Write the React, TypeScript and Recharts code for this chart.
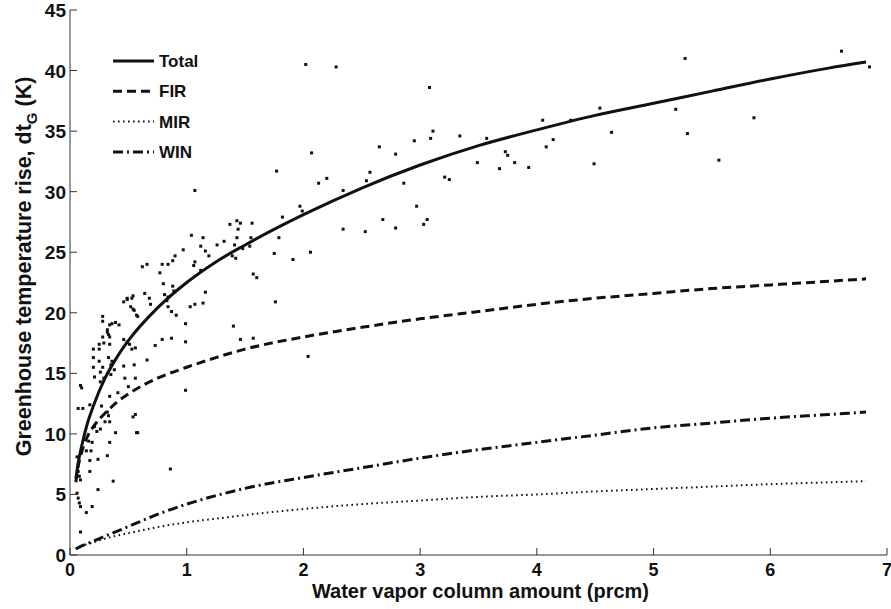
import { ComposedChart, Line, Scatter, XAxis, YAxis, Legend } from 'recharts'

// model curves
const curveX = [0.05, 0.07, 0.1, 0.15, 0.2, 0.3, 0.4, 0.5, 0.75, 1, 1.25, 1.5, 2, 2.5, 3, 3.5, 4, 4.5, 5, 5.5, 6, 6.5, 6.82]
const totalY = [6.3, 7.6, 9.0, 10.9, 12.3, 14.6, 16.3, 17.7, 20.4, 22.5, 24.2, 25.6, 28.1, 30.3, 32.2, 33.8, 35.1, 36.3, 37.3, 38.3, 39.3, 40.2, 40.7]
const firY = [6.0, 7.3, 8.5, 9.8, 10.6, 11.7, 12.6, 13.3, 14.6, 15.5, 16.3, 17.0, 18.0, 18.8, 19.5, 20.1, 20.7, 21.2, 21.6, 22.0, 22.3, 22.6, 22.8]
const mirY = [0.5, 0.6, 0.75, 0.9, 1.05, 1.35, 1.6, 1.8, 2.3, 2.7, 3.0, 3.3, 3.8, 4.2, 4.5, 4.8, 5.0, 5.25, 5.45, 5.65, 5.85, 6.0, 6.1]
const winY = [0.5, 0.6, 0.75, 0.95, 1.15, 1.55, 1.95, 2.35, 3.35, 4.2, 4.9, 5.5, 6.4, 7.2, 8.0, 8.7, 9.3, 9.9, 10.5, 10.9, 11.3, 11.6, 11.8]

// observations
const obsX = [
  0.07, 0.11, 0.09, 0.1, 0.17, 0.27,
  0.06, 0.07, 0.08, 0.09, 0.06, 0.07, 0.08, 0.09, 0.14, 0.09, 0.19,
  0.16, 0.19, 0.14, 0.18, 0.17, 0.24, 0.24, 0.21, 0.23, 0.26, 0.3, 0.32, 0.34, 0.32, 0.33, 0.34, 0.39, 0.37, 0.54, 0.58, 0.86,
  0.2, 0.2, 0.2, 0.21, 0.25, 0.25, 0.25, 0.26, 0.26,
  0.28, 0.28, 0.28, 0.29, 0.28, 0.29,
  0.32, 0.32, 0.33, 0.34, 0.34, 0.34, 0.33, 0.35, 0.35,
  0.36, 0.36, 0.38, 0.39, 0.42, 0.46, 0.46, 0.47, 0.46,
  0.49, 0.49, 0.53, 0.54, 0.52, 0.54, 0.55, 0.57, 0.58,
  0.49, 0.51, 0.53, 0.55, 0.56, 0.56, 0.57,
  0.17, 0.34, 0.41, 0.5, 0.56,
  0.62, 0.66, 0.64, 0.68, 0.69, 0.66, 0.73, 0.77, 0.79, 0.8, 0.81, 0.83, 0.84, 0.84, 0.84, 0.88, 0.88, 0.89, 0.87, 0.91, 0.99,
  0.9, 0.97, 0.79, 0.87, 0.99, 0.99, 1.03, 1.07, 1.14, 1.16, 1.06, 1.07, 1.12, 1.04, 1.07,
  1.12, 1.14, 1.16, 1.19, 1.26, 1.32, 1.37, 1.43, 1.46, 1.41, 1.43, 1.44, 1.48, 1.39, 1.42, 1.55, 1.54, 1.56, 1.57, 1.6,
  1.4, 1.46, 1.57, 1.75, 1.79, 1.82, 1.76, 1.91, 1.97, 1.99, 2.06, 2.04, 1.77, 2.07, 2.13, 2.2, 2.02, 2.28,
  2.34, 2.34, 2.53, 2.54, 2.57, 2.65, 2.68, 2.79, 2.79, 2.86, 2.95, 2.97, 3.03, 3.06, 3.09, 3.11, 3.08, 3.21, 3.25,
  3.34, 3.49, 3.57, 3.68, 3.73, 3.75, 3.81, 3.93, 4.05, 4.08, 4.14, 4.29, 4.49, 4.54, 4.64,
  5.19, 5.27, 5.29, 5.56, 5.86, 6.61, 6.85
]
const obsY = [
  12.1, 12.1, 14.0, 13.8, 12.4, 12.3,
  8.1, 6.9, 6.5, 6.2, 5.1, 4.7, 4.3, 4.0, 3.5, 1.9, 4.0,
  9.4, 9.3, 8.6, 8.6, 6.9, 7.9, 5.4, 10.6, 10.2, 10.4, 11.0, 8.2, 9.3, 11.8, 11.5, 11.0, 10.1, 6.1, 11.4, 10.1, 7.1,
  17.0, 16.3, 15.5, 14.7, 17.0, 17.4, 16.0, 15.1, 14.3,
  19.7, 19.3, 18.0, 17.5, 15.5, 14.6,
  18.6, 18.4, 18.2, 18.0, 19.0, 17.4, 16.3, 15.7, 14.9,
  19.1, 16.0, 15.3, 19.2, 19.0, 17.8, 15.6, 14.6, 20.9,
  21.2, 21.1, 21.2, 21.4, 20.5, 20.3, 20.2, 19.8, 19.7,
  17.6, 17.4, 17.0, 15.7, 14.6, 11.6, 10.1,
  7.8, 13.1, 13.4, 13.9, 17.1,
  23.8, 24.0, 21.6, 21.2, 20.7, 16.1, 17.3, 23.3, 24.0, 22.4, 21.5, 21.0, 21.3, 20.5, 24.0, 24.3, 22.2, 21.8, 20.1, 19.8, 19.1,
  24.7, 25.2, 17.8, 17.9, 17.6, 13.6, 20.5, 20.7, 20.8, 21.7, 23.9, 24.2, 23.5, 26.4, 30.1,
  25.5, 26.2, 25.1, 24.7, 25.6, 25.9, 27.3, 27.6, 27.4, 25.6, 26.2, 26.9, 25.3, 24.7, 24.5, 26.2, 25.5, 27.4, 23.2, 22.9,
  18.9, 17.8, 17.9, 24.9, 26.2, 27.9, 20.9, 24.4, 28.8, 28.4, 25.0, 16.4, 31.7, 33.2, 30.7, 31.1, 40.5, 40.3,
  30.1, 26.9, 26.7, 30.9, 31.6, 33.7, 27.7, 33.1, 27.0, 30.7, 34.2, 28.8, 27.3, 27.7, 34.4, 35.0, 38.6, 31.2, 31.0,
  34.6, 32.4, 34.4, 31.9, 33.3, 33.0, 32.4, 32.0, 35.9, 33.7, 34.3, 35.9, 32.3, 36.9, 34.9,
  36.8, 41.0, 34.8, 32.6, 36.1, 41.6, 40.3
]

const xTicks = [0, 1, 2, 3, 4, 5, 6, 7]
const yTicks = [0, 5, 10, 15, 20, 25, 30, 35, 40, 45]

const seriesNames = ['Total', 'FIR', 'MIR', 'WIN']
const seriesKeys = ['total', 'fir', 'mir', 'win']
const seriesDash = ['', '9 5', '1.6 3.4', '10 4 2 4']
const seriesWidth = [3, 3, 2, 3]

const FONT = 'Arial, "Liberation Sans", Helvetica, sans-serif'
const AXIS = '#333'

const curveData = curveX.map((x, i) => ({
  x,
  total: totalY[i],
  fir: firY[i],
  mir: mirY[i],
  win: winY[i]
}))
const obsData = obsX.map((x, i) => ({ x, y: obsY[i] }))

const BottomTick = ({ x, y, payload }: any) => (
  <g>
    <line x1={x} y1={y} x2={x} y2={y - 7} stroke={AXIS} />
    <text x={x} y={y + 21} textAnchor="middle" fontSize={18} fontWeight="bold" fontFamily={FONT} fill="#111">
      {payload.value}
    </text>
  </g>
)

const LeftTick = ({ x, y, payload }: any) => (
  <g>
    <line x1={x} y1={y} x2={x + 7} y2={y} stroke={AXIS} />
    <text x={x - 4} y={y + 7} textAnchor="end" fontSize={19} fontWeight="bold" fontFamily={FONT} fill="#111">
      {payload.value}
    </text>
  </g>
)

const TopTick = ({ x, y }: any) => <line x1={x} y1={y} x2={x} y2={y + 7} stroke={AXIS} />
const RightTick = ({ x, y }: any) => <line x1={x} y1={y} x2={x - 7} y2={y} stroke={AXIS} />

const XTitle = ({ viewBox }: any) => (
  <text
    x={viewBox.x + viewBox.width / 2 + 2}
    y={598}
    textAnchor="middle"
    fontSize={20}
    fontWeight="bold"
    fontFamily={FONT}
    fill="#111"
  >
    Water vapor column amount (prcm)
  </text>
)

const YTitle = ({ viewBox }: any) => {
  const cx = 31
  const cy = viewBox.y + viewBox.height / 2 - 16
  return (
    <text
      x={cx}
      y={cy}
      transform={`rotate(-90 ${cx} ${cy})`}
      textAnchor="middle"
      fontSize={21.5}
      fontWeight="bold"
      fontFamily={FONT}
      fill="#111"
    >
      Greenhouse temperature rise, dt
      <tspan dy={6} fontSize={15}>G</tspan>
      <tspan dy={-6}> (K)</tspan>
    </text>
  )
}

const LegendBox = () => (
  <svg width={120} height={120}>
    {seriesNames.map((name, i) => {
      const cy = 16 + 30.3 * i
      return (
        <g key={name}>
          <line
            x1={3}
            x2={44}
            y1={cy}
            y2={cy}
            stroke="#111"
            strokeWidth={seriesWidth[i]}
            strokeDasharray={seriesDash[i] || undefined}
          />
          <text x={49} y={cy + 6} fontSize={17} fontWeight="bold" fontFamily={FONT} fill="#111">
            {name}
          </text>
        </g>
      )
    })}
  </svg>
)

const Dot = ({ cx, cy }: any) => <rect x={cx - 1.5} y={cy - 1.5} width={3} height={3} fill="#111" />

export default function App() {
  return (
    <div style={{ position: 'absolute', left: 0, top: 0, width: 891, height: 609, background: '#fff' }}>
      <ComposedChart
        width={891}
        height={609}
        data={curveData}
        margin={{ top: 10, right: 4, bottom: 0, left: 0 }}
      >
        <XAxis
          dataKey="x"
          type="number"
          domain={[0, 7]}
          ticks={xTicks}
          height={54}
          stroke={AXIS}
          tickLine={false}
          tickSize={0}
          tickMargin={0}
          tick={<BottomTick />}
          label={<XTitle />}
          allowDataOverflow
        />
        <XAxis
          xAxisId="top"
          orientation="top"
          dataKey="x"
          type="number"
          domain={[0, 7]}
          ticks={xTicks}
          height={0}
          stroke={AXIS}
          tickLine={false}
          tickSize={0}
          tickMargin={0}
          tick={<TopTick />}
          allowDataOverflow
        />
        <YAxis
          type="number"
          domain={[0, 45]}
          ticks={yTicks}
          width={70}
          stroke={AXIS}
          tickLine={false}
          tickSize={0}
          tickMargin={0}
          tick={<LeftTick />}
          label={<YTitle />}
          allowDataOverflow
        />
        <YAxis
          yAxisId="right"
          orientation="right"
          type="number"
          domain={[0, 45]}
          ticks={yTicks}
          width={0}
          stroke={AXIS}
          tickLine={false}
          tickSize={0}
          tickMargin={0}
          tick={<RightTick />}
          allowDataOverflow
        />
        <Legend
          layout="horizontal"
          verticalAlign="middle"
          align="center"
          content={<LegendBox />}
          wrapperStyle={{ left: 110, top: 45, width: 120, height: 120 }}
        />
        <Scatter data={obsData} dataKey="y" shape={<Dot />} isAnimationActive={false} legendType="none" />
        {seriesKeys.map((key, i) => (
          <Line
            key={key}
            type="monotone"
            dataKey={key}
            name={seriesNames[i]}
            stroke="#111"
            strokeWidth={seriesWidth[i]}
            strokeDasharray={seriesDash[i] || undefined}
            dot={false}
            activeDot={false}
            isAnimationActive={false}
          />
        ))}
      </ComposedChart>
    </div>
  )
}
